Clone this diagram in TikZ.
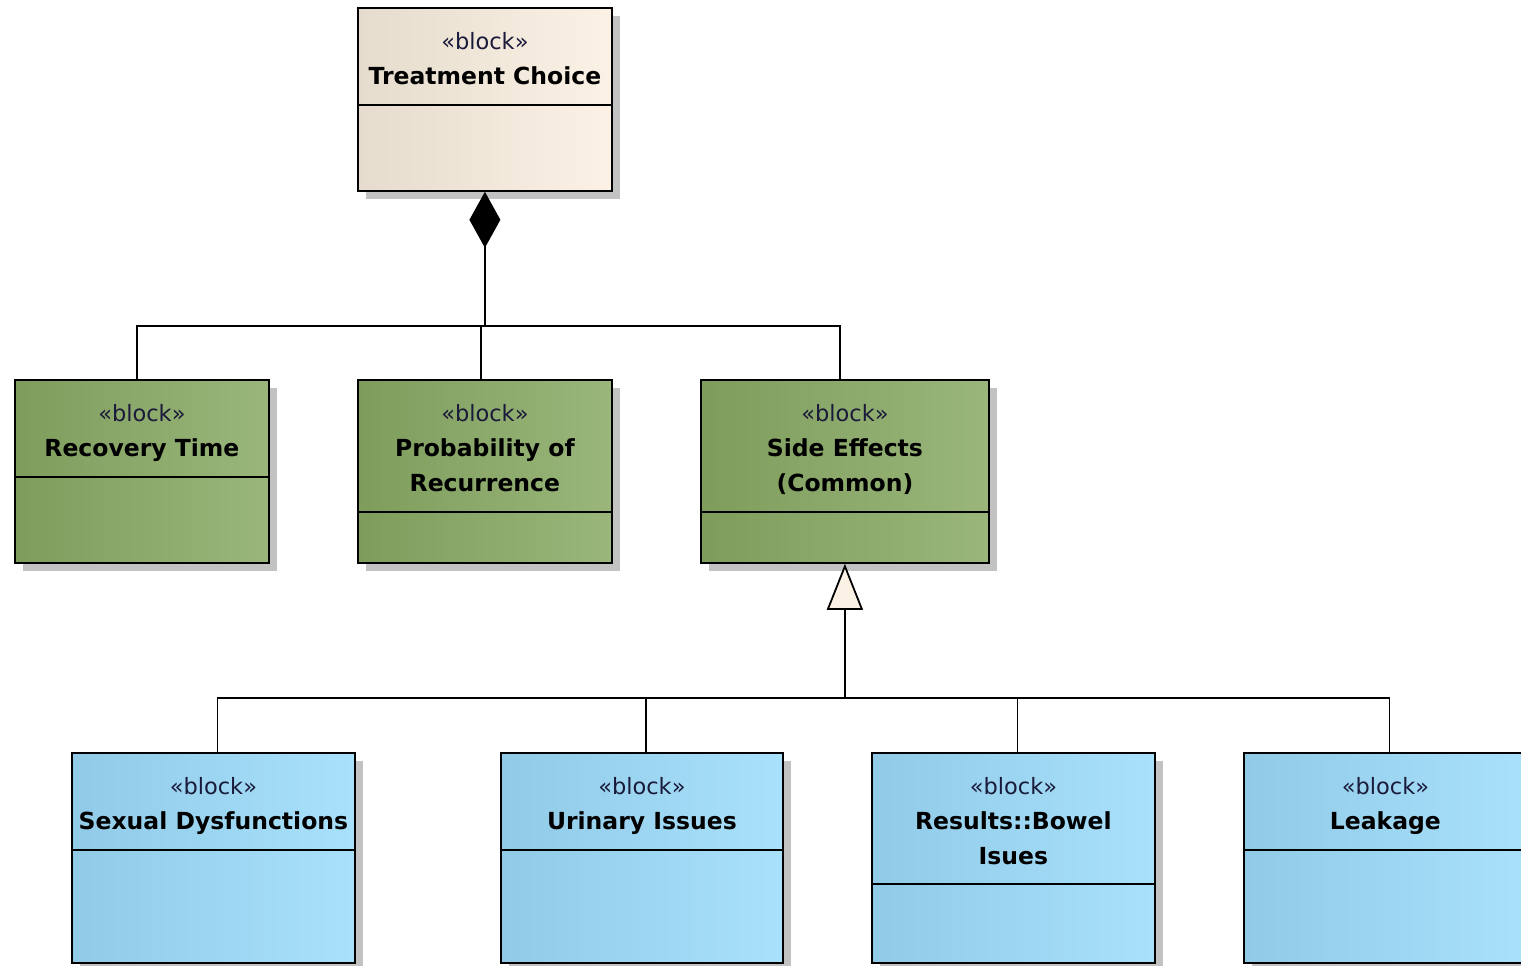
\documentclass[tikz,border=0pt]{standalone}
\usepackage{fontspec}
\setmainfont{DejaVu Sans}
\usetikzlibrary{arrows.meta,positioning,calc,shadows}
\definecolor{BgL}{HTML}{E6DCCD}
\definecolor{BgR}{HTML}{FBF1E5}
\definecolor{GrL}{HTML}{7E9D5C}
\definecolor{GrR}{HTML}{9AB67B}
\definecolor{BlL}{HTML}{90CAE6}
\definecolor{BlR}{HTML}{A9E1FC}
\definecolor{Shd}{HTML}{C2C2C2}
\definecolor{Ink}{HTML}{1A1A3A}
\newcommand{\blockstereo}{{\fontsize{22.5}{35}\selectfont\mdseries\color{Ink}«block»}}
\tikzset{
  block/.style={draw=black, line width=1.8pt, rectangle, inner sep=0pt,
    anchor=north west,
    drop shadow={shadow xshift=8pt, shadow yshift=-8pt, fill=Shd, opacity=1}},
  beigebox/.style={left color=BgL, right color=BgR},
  greenbox/.style={left color=GrL, right color=GrR},
  bluebox/.style={left color=BlL, right color=BlR},
  blocklabel/.style={anchor=north, inner sep=0pt, align=center,
    font=\fontsize{23.5}{35}\selectfont\bfseries},
  divider/.style={line width=1.8pt},
  wire/.style={draw=black, line width=1.8pt},
  compose/.style={wire, {Diamond[length=56pt,width=31pt]}-},
  generalise/.style={wire, {Triangle[length=46pt,width=36pt,fill=BgR]}-}
}
\begin{document}
\begin{tikzpicture}[x=1pt, y=-1pt]
  \useasboundingbox (0,0) rectangle (1521,966);

  % whole
  \node[block, beigebox, minimum width=254, minimum height=183] (tc) at (357,7) {};
  \node[blocklabel] (tc-l) at ([yshift=-25]tc.north) {\blockstereo\\Treatment Choice};
  \draw[divider] ([yshift=-98]tc.north west) -- ([yshift=-98]tc.north east);

  % parts
  \node[block, greenbox, minimum width=254, minimum height=183] (rt) at (14,379) {};
  \node[blocklabel] (rt-l) at ([yshift=-25]rt.north) {\blockstereo\\Recovery Time};
  \draw[divider] ([yshift=-98]rt.north west) -- ([yshift=-98]rt.north east);

  \node[block, greenbox, minimum width=254, minimum height=183] (pr) at (357,379) {};
  \node[blocklabel] (pr-l) at ([yshift=-25]pr.north) {\blockstereo\\Probability of\\Recurrence};
  \draw[divider] ([yshift=-133]pr.north west) -- ([yshift=-133]pr.north east);

  \node[block, greenbox, minimum width=288, minimum height=183] (se) at (700,379) {};
  \node[blocklabel] (se-l) at ([yshift=-25]se.north) {\blockstereo\\Side Effects\\(Common)};
  \draw[divider] ([yshift=-133]se.north west) -- ([yshift=-133]se.north east);

  % kinds of side effect
  \node[block, bluebox, minimum width=283, minimum height=210] (sd) at (71,752) {};
  \node[blocklabel] (sd-l) at ([yshift=-25]sd.north) {\blockstereo\\Sexual Dysfunctions};
  \draw[divider] ([yshift=-98]sd.north west) -- ([yshift=-98]sd.north east);

  \node[block, bluebox, minimum width=282, minimum height=210] (ui) at (500,752) {};
  \node[blocklabel] (ui-l) at ([yshift=-25]ui.north) {\blockstereo\\Urinary Issues};
  \draw[divider] ([yshift=-98]ui.north west) -- ([yshift=-98]ui.north east);

  \node[block, bluebox, minimum width=283, minimum height=210] (bw) at (871,752) {};
  \node[blocklabel] (bw-l) at ([yshift=-25]bw.north) {\blockstereo\\Results::Bowel\\Isues};
  \draw[divider] ([yshift=-132]bw.north west) -- ([yshift=-132]bw.north east);

  \node[block, bluebox, minimum width=283, minimum height=210] (lk) at (1243,752) {};
  \node[blocklabel] (lk-l) at ([yshift=-25]lk.north) {\blockstereo\\Leakage};
  \draw[divider] ([yshift=-98]lk.north west) -- ([yshift=-98]lk.north east);

  % composition
  \coordinate (j1) at (tc.south |- 0,326);
  \draw[compose] (tc.south) -- (j1);
  \draw[wire] (j1) -| ([xshift=-5]rt.north);
  \draw[wire] (j1) -| ([xshift=-4]pr.north);
  \draw[wire] (j1) -| ([xshift=-5]se.north);

  % generalisation
  \coordinate (j2) at (se.south |- 0,698);
  \draw[generalise] (se.south) -- (j2);
  \draw[wire] (j2) -| ([xshift=4]sd.north);
  \draw[wire] (j2) -| ([xshift=4]ui.north);
  \draw[wire] (j2) -| ([xshift=4]bw.north);
  \draw[wire] (j2) -| ([xshift=4]lk.north);
\end{tikzpicture}
\end{document}
